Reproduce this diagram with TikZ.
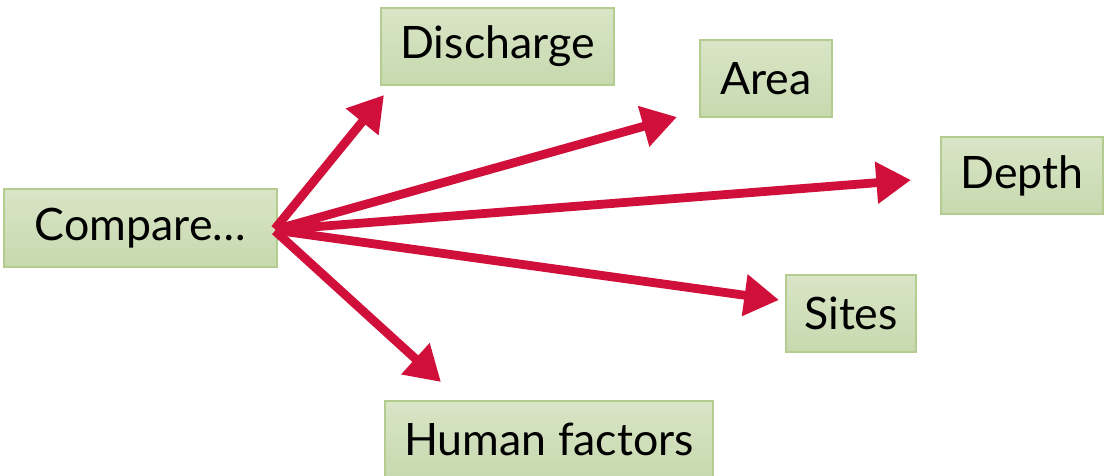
\documentclass[tikz,border=0pt]{standalone}
\usepackage{fontspec}
\setmainfont{Lato}
\usetikzlibrary{arrows.meta}
\definecolor{boxtop}{HTML}{D9E5C7}
\definecolor{boxbot}{HTML}{C7D9AE}
\definecolor{boxline}{HTML}{B5CC90}
\definecolor{arr}{HTML}{D0103A}
\tikzset{
  box/.style={draw=boxline, line width=0.8pt, top color=boxtop, bottom color=boxbot,
    inner sep=0pt, font=\fontsize{33.5}{38}\selectfont, text=black},
  arrow/.style={draw=arr, line width=6.6pt, -{Triangle[length=26pt,width=30pt]}, shorten <=1pt}
}
\begin{document}
\begin{tikzpicture}[x=0.75pt,y=-0.75pt]
\useasboundingbox (0,0) rectangle (1106,475);
\node[box, minimum width=273*0.75pt, minimum height=78*0.75pt] (cmp) at (140.5,228) {Compare…};
\node[box, minimum width=233*0.75pt, minimum height=77*0.75pt] (dis) at (497.5,46.5) {Discharge};
\node[box, minimum width=132*0.75pt, minimum height=77*0.75pt] (area) at (766,78.5) {Area};
\node[box, minimum width=162*0.75pt, minimum height=77*0.75pt] (dep) at (1022,175.5) {Depth};
\node[box, minimum width=130*0.75pt, minimum height=77*0.75pt] (sit) at (851,313.5) {Sites};
\node[box, minimum width=328*0.75pt, minimum height=76*0.75pt] (hum) at (549,439) {Human factors};
\coordinate (hub) at (274,230);
\coordinate (tdis) at (384,95);
\coordinate (tarea) at (677,117);
\coordinate (tdep) at (911,180);
\coordinate (tsit) at (779,300);
\coordinate (thum) at (441,382);
\draw[arrow] (hub) -- (tdis);
\draw[arrow] (hub) -- (tarea);
\draw[arrow] (hub) -- (tdep);
\draw[arrow] (hub) -- (tsit);
\draw[arrow] (hub) -- (thum);
\end{tikzpicture}
\end{document}
